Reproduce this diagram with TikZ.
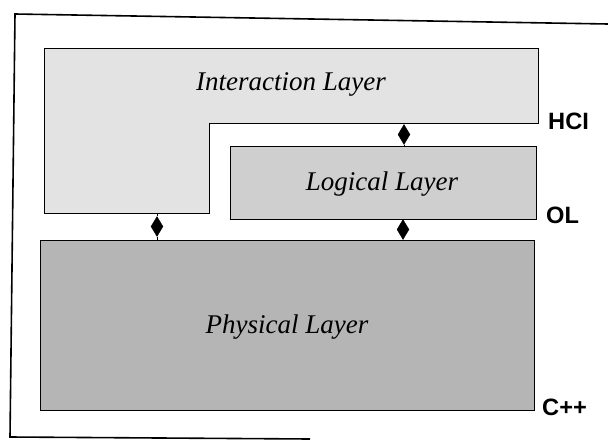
\documentclass[tikz,border=0pt]{standalone}
\usepackage{fontspec}
\setmainfont{Liberation Serif}
\setsansfont{Liberation Sans}
\usetikzlibrary{shapes.geometric}
\newcommand{\tagtext}[1]{\scalebox{0.95}{\sffamily\bfseries\Huge #1}}
\begin{document}
\begin{tikzpicture}[x=1pt,y=-1pt,
  layerbox/.style={draw=black,line width=0.9pt,rectangle,inner sep=0pt,anchor=north west},
  layertext/.style={font=\fontsize{27}{30}\selectfont\itshape},
  layertag/.style={anchor=west,inner sep=0pt},
  link/.style={draw=black,line width=0.9pt},
  joint/.style={diamond,fill=black,draw=black,inner sep=0pt,minimum width=12pt,minimum height=20pt}]
\useasboundingbox (0,0) rectangle (608,442);
% frame
\draw[line width=1.6pt] (608,24) -- (15,14) -- (10,437) -- (310,439);
% interaction layer (L-shaped)
\fill[gray!22] (44,48) -- (538,48) -- (538,123) -- (209,123) -- (209,213) -- (44,213) -- cycle;
\draw[line width=0.9pt] (44,48) -- (538,48) -- (538,123) -- (209,123) -- (209,213) -- (44,213) -- cycle;
\coordinate (ibotR) at (404,123);
\coordinate (ibotL) at (157,213);
\node[layertext] (itext) at (291,84) {Interaction Layer};
% logical layer
\node[layerbox,fill=gray!38,minimum width=306pt,minimum height=73pt] (logical) at (230,146) {};
\node[layertext] (ltext) at (382,184) {Logical Layer};
% physical layer
\node[layerbox,fill=gray!58,minimum width=494pt,minimum height=170pt] (physical) at (40,240) {};
\node[layertext] (ptext) at (287,327) {Physical Layer};
% joints
\node[joint] (d1) at (404,134.5) {};
\node[joint] (d2) at (157,226.5) {};
\node[joint] (d3) at (403,229.5) {};
\draw[link] (ibotR) -- (d1.north);
\draw[link] (d1.south) -- (d1.south |- logical.north);
\draw[link] (ibotL) -- (d2.north);
\draw[link] (d2.south) -- (d2.south |- physical.north);
\draw[link] (d3.north |- logical.south) -- (d3.north);
\draw[link] (d3.south) -- (d3.south |- physical.north);
% tags
\node[layertag] (hci) at (548,121) {\tagtext{HCI}};
\node[layertag] (ol) at (546,215) {\tagtext{OL}};
\node[layertag] (cpp) at (542,407) {\tagtext{C++}};
\end{tikzpicture}
\end{document}
